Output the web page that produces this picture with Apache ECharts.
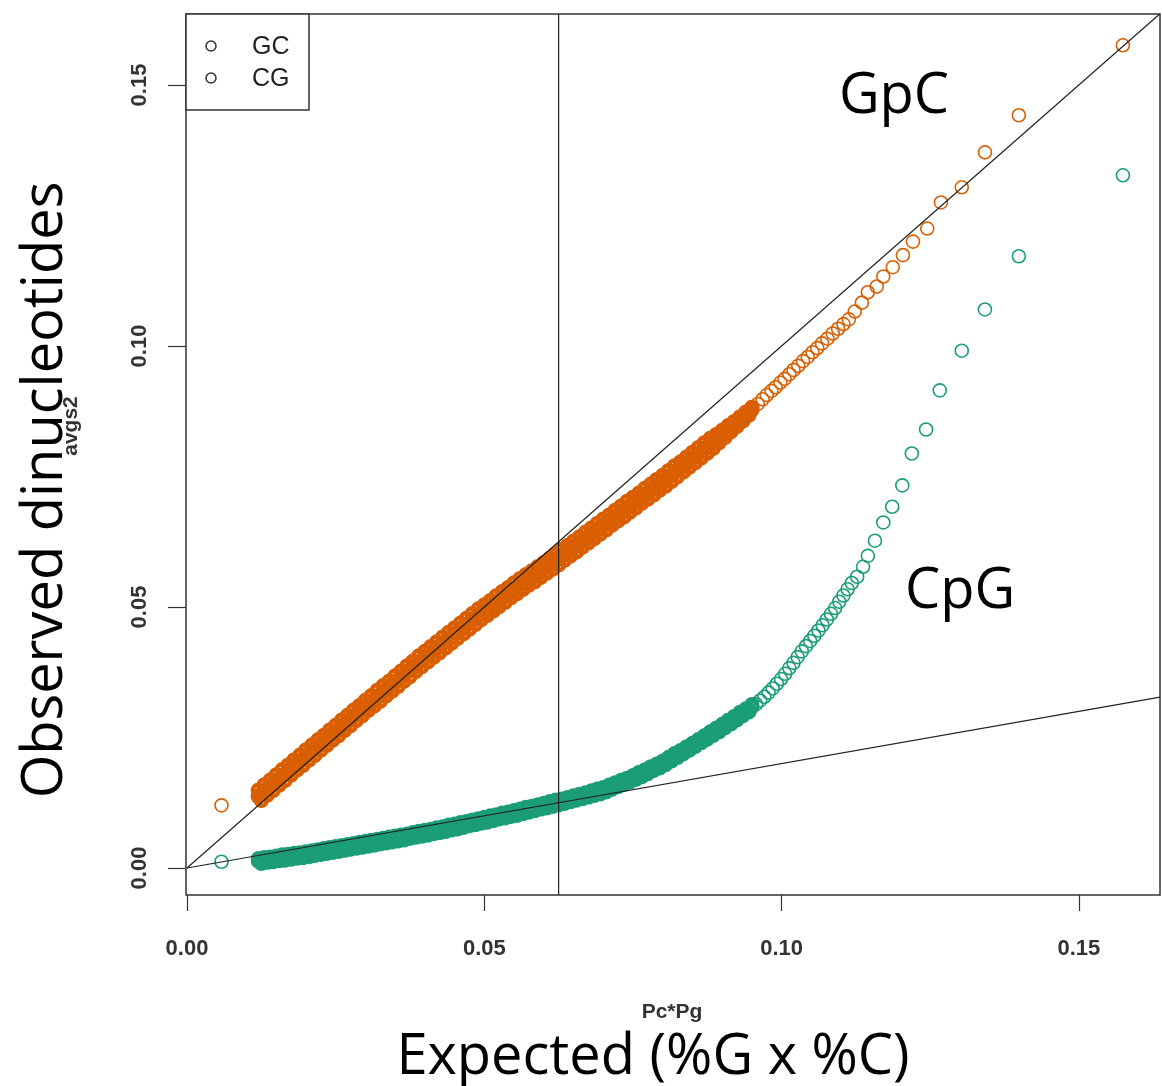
<!DOCTYPE html>
<html>
<head>
<meta charset="utf-8">
<style>
  html, body { margin: 0; padding: 0; background: #fff; }
  #chart { width: 1162px; height: 1086px; }
</style>
<script src="https://cdn.jsdelivr.net/npm/echarts@6.0.0/dist/echarts.min.js"></script>
</head>
<body>
<div id="chart"></div>
<script>
// axis ticks and ranges (R default 4% padding around the data)
const xTicks = [0, 0.05, 0.1, 0.15];
const yTicks = [0, 0.05, 0.1, 0.15];
const xRange = [-0.00017, 0.16364];
const yRange = [-0.00517, 0.1636];

// reference lines: abline(0, slope) and abline(v = ...)
const ablineSlopes = [1, 0.2];
const vLineX = 0.0625;

// x positions sampled along the dense part of both bands
const denseX = [
  0.0120, 0.0125, 0.0130, 0.0135, 0.0140, 0.0145, 0.0150, 0.0155, 0.0160, 0.0165,
  0.0170, 0.0175, 0.0180, 0.0185, 0.0190, 0.0195, 0.0200, 0.0205, 0.0210, 0.0215,
  0.0220, 0.0225, 0.0230, 0.0235, 0.0240, 0.0245, 0.0250, 0.0255, 0.0260, 0.0265,
  0.0270, 0.0275, 0.0280, 0.0285, 0.0290, 0.0295, 0.0300, 0.0305, 0.0310, 0.0315,
  0.0320, 0.0325, 0.0330, 0.0335, 0.0340, 0.0345, 0.0350, 0.0355, 0.0360, 0.0365,
  0.0370, 0.0375, 0.0380, 0.0385, 0.0390, 0.0395, 0.0400, 0.0405, 0.0410, 0.0415,
  0.0420, 0.0425, 0.0430, 0.0435, 0.0440, 0.0445, 0.0450, 0.0455, 0.0460, 0.0465,
  0.0470, 0.0475, 0.0480, 0.0485, 0.0490, 0.0495, 0.0500, 0.0505, 0.0510, 0.0515,
  0.0520, 0.0525, 0.0530, 0.0535, 0.0540, 0.0545, 0.0550, 0.0555, 0.0560, 0.0565,
  0.0570, 0.0575, 0.0580, 0.0585, 0.0590, 0.0595, 0.0600, 0.0605, 0.0610, 0.0615,
  0.0620, 0.0625, 0.0630, 0.0635, 0.0640, 0.0645, 0.0650, 0.0655, 0.0660, 0.0665,
  0.0670, 0.0675, 0.0680, 0.0685, 0.0690, 0.0695, 0.0700, 0.0705, 0.0710, 0.0715,
  0.0720, 0.0725, 0.0730, 0.0735, 0.0740, 0.0745, 0.0750, 0.0755, 0.0760, 0.0765,
  0.0770, 0.0775, 0.0780, 0.0785, 0.0790, 0.0795, 0.0800, 0.0805, 0.0810, 0.0815,
  0.0820, 0.0825, 0.0830, 0.0835, 0.0840, 0.0845, 0.0850, 0.0855, 0.0860, 0.0865,
  0.0870, 0.0875, 0.0880, 0.0885, 0.0890, 0.0895, 0.0900, 0.0905, 0.0910, 0.0915,
  0.0920, 0.0925, 0.0930, 0.0935, 0.0940, 0.0945, 0.0950
];

// GC (GpC), orange: dense band, upper / lower edge alternating along denseX
const gcEdgeY = [
  0.0149, 0.0130, 0.0159, 0.0140, 0.0168, 0.0149, 0.0178, 0.0159, 0.0188, 0.0168,
  0.0197, 0.0178, 0.0207, 0.0188, 0.0216, 0.0197, 0.0226, 0.0207, 0.0235, 0.0216,
  0.0245, 0.0226, 0.0254, 0.0235, 0.0264, 0.0245, 0.0273, 0.0254, 0.0283, 0.0264,
  0.0292, 0.0273, 0.0302, 0.0283, 0.0311, 0.0292, 0.0321, 0.0302, 0.0330, 0.0311,
  0.0340, 0.0320, 0.0349, 0.0330, 0.0358, 0.0339, 0.0368, 0.0348, 0.0377, 0.0358,
  0.0387, 0.0367, 0.0396, 0.0377, 0.0406, 0.0386, 0.0415, 0.0395, 0.0424, 0.0404,
  0.0433, 0.0413, 0.0442, 0.0422, 0.0451, 0.0431, 0.0460, 0.0440, 0.0469, 0.0449,
  0.0478, 0.0458, 0.0487, 0.0467, 0.0496, 0.0476, 0.0504, 0.0484, 0.0512, 0.0493,
  0.0521, 0.0501, 0.0529, 0.0509, 0.0537, 0.0518, 0.0546, 0.0526, 0.0554, 0.0534,
  0.0562, 0.0542, 0.0569, 0.0549, 0.0577, 0.0557, 0.0585, 0.0565, 0.0593, 0.0573,
  0.0601, 0.0581, 0.0610, 0.0590, 0.0618, 0.0598, 0.0626, 0.0606, 0.0634, 0.0615,
  0.0643, 0.0623, 0.0651, 0.0631, 0.0660, 0.0640, 0.0668, 0.0648, 0.0676, 0.0657,
  0.0685, 0.0665, 0.0693, 0.0673, 0.0702, 0.0682, 0.0710, 0.0690, 0.0718, 0.0699,
  0.0727, 0.0707, 0.0735, 0.0715, 0.0744, 0.0724, 0.0752, 0.0732, 0.0761, 0.0741,
  0.0770, 0.0750, 0.0778, 0.0759, 0.0787, 0.0768, 0.0796, 0.0777, 0.0805, 0.0786,
  0.0814, 0.0795, 0.0823, 0.0804, 0.0830, 0.0815, 0.0838, 0.0825, 0.0847, 0.0836,
  0.0855, 0.0846, 0.0864, 0.0857, 0.0873, 0.0868, 0.0882
];
// GC dense band, middle
const gcMidY = [
  0.0137, 0.0142, 0.0147, 0.0152, 0.0156, 0.0161, 0.0166, 0.0171, 0.0176, 0.0180,
  0.0185, 0.0190, 0.0195, 0.0200, 0.0204, 0.0209, 0.0214, 0.0219, 0.0223, 0.0228,
  0.0233, 0.0238, 0.0242, 0.0247, 0.0252, 0.0257, 0.0261, 0.0266, 0.0271, 0.0276,
  0.0280, 0.0285, 0.0290, 0.0295, 0.0299, 0.0304, 0.0309, 0.0314, 0.0318, 0.0323,
  0.0328, 0.0332, 0.0337, 0.0342, 0.0346, 0.0351, 0.0356, 0.0360, 0.0365, 0.0370,
  0.0375, 0.0379, 0.0384, 0.0389, 0.0394, 0.0398, 0.0403, 0.0407, 0.0412, 0.0416,
  0.0421, 0.0425, 0.0430, 0.0434, 0.0439, 0.0443, 0.0448, 0.0452, 0.0457, 0.0461,
  0.0466, 0.0470, 0.0475, 0.0479, 0.0484, 0.0488, 0.0492, 0.0496, 0.0500, 0.0505,
  0.0509, 0.0513, 0.0517, 0.0521, 0.0525, 0.0530, 0.0534, 0.0538, 0.0542, 0.0546,
  0.0550, 0.0554, 0.0557, 0.0561, 0.0565, 0.0569, 0.0573, 0.0577, 0.0581, 0.0585,
  0.0589, 0.0593, 0.0598, 0.0602, 0.0606, 0.0610, 0.0614, 0.0618, 0.0622, 0.0627,
  0.0631, 0.0635, 0.0639, 0.0643, 0.0648, 0.0652, 0.0656, 0.0660, 0.0664, 0.0669,
  0.0673, 0.0677, 0.0681, 0.0685, 0.0690, 0.0694, 0.0698, 0.0702, 0.0706, 0.0711,
  0.0715, 0.0719, 0.0723, 0.0727, 0.0732, 0.0736, 0.0740, 0.0744, 0.0749, 0.0753,
  0.0758, 0.0762, 0.0766, 0.0771, 0.0775, 0.0780, 0.0784, 0.0789, 0.0793, 0.0798,
  0.0802, 0.0807, 0.0811, 0.0816, 0.0820, 0.0825, 0.0829, 0.0834, 0.0839, 0.0844,
  0.0848, 0.0853, 0.0858, 0.0863, 0.0868, 0.0873, 0.0878
];
// GC outlier and sparse tail
const gcTailX = [
  0.0058,
  0.0960, 0.0968, 0.0975, 0.0983, 0.0990, 0.0998, 0.1005, 0.1013, 0.1020, 0.1028,
  0.1036, 0.1044, 0.1052, 0.1060, 0.1068, 0.1077, 0.1086, 0.1095, 0.1104, 0.1113,
  0.1123, 0.1135, 0.1145, 0.1160, 0.1171, 0.1187, 0.1204, 0.1221, 0.1245, 0.1268,
  0.1303, 0.1342, 0.1399, 0.1574
];
const gcTailY = [
  0.0120,
  0.0889, 0.0898, 0.0906, 0.0914, 0.0921, 0.0930, 0.0937, 0.0946, 0.0954, 0.0962,
  0.0971, 0.0979, 0.0988, 0.0996, 0.1005, 0.1014, 0.1024, 0.1033, 0.1042, 0.1051,
  0.1066, 0.1083, 0.1103, 0.1114, 0.1133, 0.1151, 0.1174, 0.1200, 0.1225, 0.1275,
  0.1304, 0.1371, 0.1442, 0.1576
];

// CG (CpG), green: dense band edges alternating along denseX
const cgEdgeY = [
  0.0018, 0.0009, 0.0020, 0.0011, 0.0021, 0.0012, 0.0023, 0.0014, 0.0025, 0.0015,
  0.0026, 0.0017, 0.0028, 0.0019, 0.0029, 0.0020, 0.0031, 0.0022, 0.0033, 0.0024,
  0.0035, 0.0026, 0.0037, 0.0028, 0.0039, 0.0030, 0.0041, 0.0032, 0.0043, 0.0034,
  0.0045, 0.0036, 0.0047, 0.0038, 0.0049, 0.0040, 0.0051, 0.0042, 0.0053, 0.0044,
  0.0055, 0.0046, 0.0057, 0.0048, 0.0059, 0.0050, 0.0061, 0.0052, 0.0063, 0.0054,
  0.0065, 0.0057, 0.0068, 0.0059, 0.0070, 0.0061, 0.0072, 0.0063, 0.0074, 0.0066,
  0.0077, 0.0068, 0.0079, 0.0070, 0.0082, 0.0073, 0.0084, 0.0075, 0.0087, 0.0078,
  0.0089, 0.0081, 0.0092, 0.0083, 0.0094, 0.0086, 0.0097, 0.0088, 0.0100, 0.0091,
  0.0102, 0.0094, 0.0105, 0.0096, 0.0107, 0.0099, 0.0110, 0.0101, 0.0113, 0.0104,
  0.0116, 0.0107, 0.0118, 0.0110, 0.0121, 0.0113, 0.0124, 0.0115, 0.0127, 0.0118,
  0.0130, 0.0121, 0.0132, 0.0124, 0.0135, 0.0127, 0.0138, 0.0130, 0.0141, 0.0133,
  0.0144, 0.0136, 0.0148, 0.0139, 0.0151, 0.0142, 0.0154, 0.0146, 0.0159, 0.0151,
  0.0163, 0.0156, 0.0168, 0.0160, 0.0172, 0.0165, 0.0177, 0.0170, 0.0183, 0.0175,
  0.0188, 0.0181, 0.0194, 0.0187, 0.0199, 0.0192, 0.0205, 0.0198, 0.0212, 0.0205,
  0.0219, 0.0212, 0.0225, 0.0219, 0.0232, 0.0226, 0.0239, 0.0233, 0.0246, 0.0240,
  0.0253, 0.0247, 0.0261, 0.0254, 0.0268, 0.0261, 0.0275, 0.0269, 0.0283, 0.0276,
  0.0290, 0.0284, 0.0298, 0.0292, 0.0305, 0.0299, 0.0313
];
// CG dense band, middle
const cgMidY = [
  0.0013, 0.0014, 0.0015, 0.0016, 0.0016, 0.0017, 0.0018, 0.0019, 0.0020, 0.0020,
  0.0021, 0.0022, 0.0023, 0.0024, 0.0024, 0.0025, 0.0026, 0.0027, 0.0028, 0.0029,
  0.0030, 0.0031, 0.0032, 0.0033, 0.0034, 0.0035, 0.0036, 0.0037, 0.0038, 0.0039,
  0.0040, 0.0041, 0.0042, 0.0043, 0.0044, 0.0045, 0.0046, 0.0047, 0.0048, 0.0049,
  0.0050, 0.0051, 0.0052, 0.0053, 0.0054, 0.0055, 0.0056, 0.0057, 0.0058, 0.0059,
  0.0060, 0.0062, 0.0063, 0.0064, 0.0065, 0.0066, 0.0067, 0.0068, 0.0069, 0.0071,
  0.0072, 0.0073, 0.0074, 0.0075, 0.0077, 0.0078, 0.0079, 0.0080, 0.0082, 0.0083,
  0.0084, 0.0086, 0.0087, 0.0088, 0.0089, 0.0091, 0.0092, 0.0093, 0.0095, 0.0096,
  0.0097, 0.0099, 0.0100, 0.0101, 0.0102, 0.0104, 0.0105, 0.0106, 0.0108, 0.0109,
  0.0111, 0.0112, 0.0113, 0.0115, 0.0116, 0.0118, 0.0119, 0.0120, 0.0122, 0.0123,
  0.0125, 0.0126, 0.0127, 0.0129, 0.0130, 0.0132, 0.0133, 0.0135, 0.0136, 0.0138,
  0.0139, 0.0141, 0.0143, 0.0144, 0.0146, 0.0147, 0.0149, 0.0151, 0.0154, 0.0156,
  0.0158, 0.0161, 0.0163, 0.0165, 0.0167, 0.0170, 0.0172, 0.0175, 0.0178, 0.0180,
  0.0183, 0.0186, 0.0189, 0.0192, 0.0194, 0.0197, 0.0200, 0.0203, 0.0207, 0.0210,
  0.0214, 0.0217, 0.0220, 0.0224, 0.0227, 0.0231, 0.0234, 0.0238, 0.0241, 0.0245,
  0.0248, 0.0252, 0.0256, 0.0259, 0.0263, 0.0266, 0.0270, 0.0274, 0.0278, 0.0281,
  0.0285, 0.0289, 0.0293, 0.0297, 0.0300, 0.0304, 0.0308
];
// CG outlier and sparse tail
const cgTailX = [
  0.0058,
  0.0957, 0.0964, 0.0971, 0.0978, 0.0985, 0.0992, 0.0999, 0.1006, 0.1013, 0.1020,
  0.1027, 0.1034, 0.1041, 0.1048, 0.1055, 0.1062, 0.1069, 0.1076, 0.1083, 0.1090,
  0.1097, 0.1104, 0.1111, 0.1118,
  0.1127, 0.1137, 0.1145, 0.1157, 0.1171, 0.1186, 0.1203, 0.1219, 0.1243, 0.1266,
  0.1303, 0.1342, 0.1399, 0.1574
];
const cgTailY = [
  0.0012,
  0.0314, 0.0321, 0.0328, 0.0336, 0.0344, 0.0353, 0.0362, 0.0372, 0.0383, 0.0393,
  0.0404, 0.0415, 0.0425, 0.0435, 0.0445, 0.0455, 0.0465, 0.0476, 0.0487, 0.0498,
  0.0510, 0.0522, 0.0534, 0.0546,
  0.0558, 0.0577, 0.0598, 0.0627, 0.0662, 0.0692, 0.0733, 0.0794, 0.0840, 0.0915,
  0.0991, 0.1070, 0.1172, 0.1327
];

const GC_COLOR = '#D95F02';
const CG_COLOR = '#1B9E77';
const R_FONT = '"Liberation Sans", Arial, sans-serif';
const SLIDE_FONT = '"Open Sans", sans-serif';

const toPairs = (xs, ys) => xs.map((x, i) => [x, ys[i]]);
const openCircle = (color, width) => ({
  color: 'rgba(0,0,0,0)',
  borderColor: color,
  borderWidth: width,
  opacity: 1,
});

// thousands of overlapping rings in the original merge into a solid band
const bandSeries = (name, color, edgeY, midY, size, stroke) => ({
  name,
  type: 'scatter',
  data: toPairs(denseX, edgeY).concat(toPairs(denseX, midY)),
  symbol: 'circle',
  symbolSize: size,
  itemStyle: openCircle(color, stroke),
  emphasis: { disabled: true },
  z: 2,
});
const tailSeries = (name, color, xs, ys) => ({
  name,
  type: 'scatter',
  data: toPairs(xs, ys),
  symbol: 'circle',
  symbolSize: 13,
  itemStyle: openCircle(color, 1.6),
  emphasis: { disabled: true },
  z: 2,
});

const lineSeries = ablineSlopes.map(s => ({
  type: 'line',
  data: [[0, 0], [xRange[1], s * xRange[1]]],
  symbol: 'none',
  silent: true,
  z: 5,
  lineStyle: { color: '#222', width: 1.2 },
}));
lineSeries.push({
  type: 'line',
  data: [[vLineX, yRange[0]], [vLineX, yRange[1]]],
  symbol: 'none',
  silent: true,
  z: 5,
  lineStyle: { color: '#222', width: 1.2 },
});

const tickLabel = {
  formatter: v => v.toFixed(2),
  fontFamily: R_FONT,
  fontSize: 22,
  fontWeight: 'bold',
  color: '#333',
};

const chart = echarts.init(document.getElementById('chart'), null, { renderer: 'canvas' });

chart.setOption({
  animation: false,
  backgroundColor: '#fff',
  grid: {
    left: 186,
    top: 14,
    right: 2,
    bottom: 191,
    show: true,
    borderColor: '#333',
    borderWidth: 1.5,
  },
  xAxis: {
    type: 'value',
    min: xRange[0],
    max: xRange[1],
    splitLine: { show: false },
    axisLine: { show: false, onZero: false },
    axisTick: {
      show: true,
      length: 16,
      customValues: xTicks,
      lineStyle: { color: '#333', width: 1.2 },
    },
    axisLabel: { ...tickLabel, customValues: xTicks, margin: 43 },
  },
  yAxis: {
    type: 'value',
    min: yRange[0],
    max: yRange[1],
    splitLine: { show: false },
    axisLine: { show: false, onZero: false },
    axisTick: {
      show: true,
      length: 18,
      customValues: yTicks,
      lineStyle: { color: '#333', width: 1.2 },
    },
    axisLabel: { ...tickLabel, customValues: yTicks, rotate: 90, margin: 35 },
  },
  series: [
    bandSeries('GC', GC_COLOR, gcEdgeY, gcMidY, 11, 4.5),
    tailSeries('GC', GC_COLOR, gcTailX, gcTailY),
    bandSeries('CG', CG_COLOR, cgEdgeY, cgMidY, 12, 3.2),
    tailSeries('CG', CG_COLOR, cgTailX, cgTailY),
    ...lineSeries,
  ],
  graphic: [
    // R legend box (both keys drawn in black)
    {
      type: 'rect',
      shape: { x: 186, y: 14, width: 123, height: 96 },
      style: { fill: '#fff', stroke: '#333', lineWidth: 1.5 },
      z: 10,
    },
    { type: 'circle', shape: { cx: 211, cy: 46, r: 5 }, style: { fill: 'none', stroke: '#333', lineWidth: 1.5 }, z: 11 },
    { type: 'circle', shape: { cx: 211, cy: 78, r: 5 }, style: { fill: 'none', stroke: '#333', lineWidth: 1.5 }, z: 11 },
    { type: 'text', x: 252, y: 47, style: { text: 'GC', fontFamily: R_FONT, fontSize: 25, fill: '#222', verticalAlign: 'middle' }, z: 11 },
    { type: 'text', x: 252, y: 79, style: { text: 'CG', fontFamily: R_FONT, fontSize: 25, fill: '#222', verticalAlign: 'middle' }, z: 11 },
    // R axis titles
    { type: 'text', x: 672, y: 1012, style: { text: 'Pc*Pg', fontFamily: R_FONT, fontSize: 21, fontWeight: 'bold', fill: '#333', align: 'center', verticalAlign: 'middle' }, z: 11 },
    { type: 'text', x: 71, y: 426, rotation: Math.PI / 2, style: { text: 'avgs2', fontFamily: R_FONT, fontSize: 21, fontWeight: 'bold', fill: '#333', align: 'center', verticalAlign: 'middle' }, z: 11 },
    // slide overlay labels
    { type: 'text', x: 653, y: 1058, style: { text: 'Expected (%G x %C)', fontFamily: SLIDE_FONT, fontSize: 56, fill: '#000', align: 'center', verticalAlign: 'middle' }, z: 12 },
    { type: 'text', x: 46, y: 490, rotation: Math.PI / 2, style: { text: 'Observed dinucleotides', fontFamily: SLIDE_FONT, fontSize: 56, fill: '#000', align: 'center', verticalAlign: 'middle' }, z: 12 },
    { type: 'text', x: 894, y: 97, style: { text: 'GpC', fontFamily: SLIDE_FONT, fontSize: 56, fill: '#000', align: 'center', verticalAlign: 'middle' }, z: 12 },
    { type: 'text', x: 960, y: 592, style: { text: 'CpG', fontFamily: SLIDE_FONT, fontSize: 56, fill: '#000', align: 'center', verticalAlign: 'middle' }, z: 12 },
  ],
});
</script>
</body>
</html>
